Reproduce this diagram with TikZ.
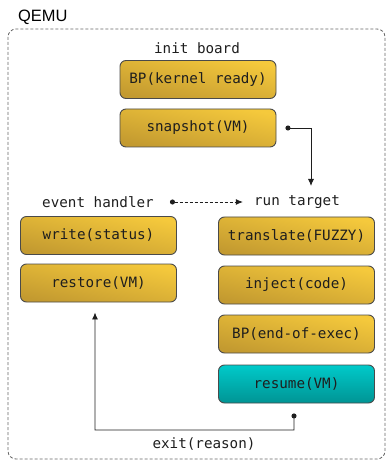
\documentclass[tikz,border=0pt]{standalone}
\usepackage{fontspec}
\setmainfont{DejaVu Sans Mono}
\newfontfamily\labelfont{Liberation Sans}
\usetikzlibrary{arrows.meta,calc}

\definecolor{goldlight}{HTML}{F5C93C}
\definecolor{golddark}{HTML}{C39A30}
\definecolor{teallight}{HTML}{00CACA}
\definecolor{tealdark}{HTML}{009494}
\definecolor{edgegray}{HTML}{4A4A4A}
\definecolor{inkcol}{HTML}{1E1E1E}

\tikzset{
  stagebox/.style={draw=edgegray, line width=0.9bp, rounded corners=6bp,
    minimum width=156bp, minimum height=38bp, inner sep=0bp,
    font=\fontsize{14.3}{16}\selectfont, text=inkcol},
  goldbox/.style={stagebox, top color=goldlight, bottom color=golddark, shading angle=-12},
  tealbox/.style={stagebox, top color=teallight, bottom color=tealdark},
  heading/.style={font=\fontsize{14.3}{16}\selectfont, text=inkcol, inner sep=1bp},
  flow/.style={draw=inkcol, line width=0.9bp, {Circle[length=5bp]}-{Latex[length=7bp,width=6bp]}},
}

\begin{document}
\begin{tikzpicture}[x=1bp, y=-1bp]
  \useasboundingbox (0,0) rectangle (387,461);

  % QEMU container
  \draw[gray!80!black, line width=0.8bp, dash pattern=on 3bp off 2bp, rounded corners=8bp]
    (8,29) rectangle (385,459);
  \node[font=\labelfont\fontsize{16.5}{18}\selectfont, anchor=west, inner sep=0bp] (qemu) at (18,17) {QEMU};

  % init board
  \node[heading] (init) at (197,48) {init board};
  \node[goldbox] (bpk) at (198,79.5) {BP(kernel ready)};
  \node[goldbox] (snap) at (198,128) {snapshot(VM)};

  % event handler column
  \node[heading] (eh) at (98,202) {event handler};
  \node[goldbox] (wr) at (98.5,235.5) {write(status)};
  \node[goldbox] (rest) at (98.5,283) {restore(VM)};

  % run target column
  \node[heading] (rt) at (297,202) {run target};
  \node[goldbox] (tr) at (296.5,236) {translate(FUZZY)};
  \node[goldbox] (inj) at (296.5,285) {inject(code)};
  \node[goldbox] (bpe) at (296.5,334) {BP(end-of-exec)};
  \node[tealbox] (res) at (296.5,384) {resume(VM)};

  \node[heading] (exit) at (204,444) {exit(reason)};

  % connectors
  \coordinate (rtin) at (311,186);
  \draw[flow] ([xshift=9bp]snap.east) -| (rtin);
  \draw[flow, dash pattern=on 3bp off 2bp] ([xshift=15bp]eh.east) -- ([xshift=-10bp]rt.west);
  \coordinate (turn) at (294,430);
  \draw[flow] ([xshift=-2.5bp,yshift=-10bp]res.south) -- (turn) -| ([xshift=-3.5bp,yshift=-10bp]rest.south);
\end{tikzpicture}
\end{document}
